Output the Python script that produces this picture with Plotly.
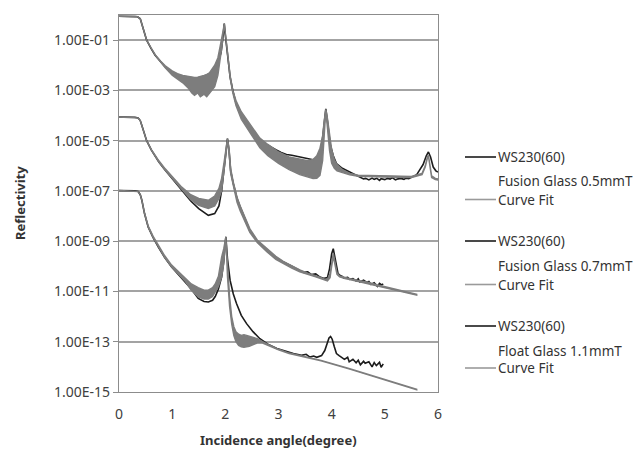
import numpy as np
import plotly.graph_objects as go

# ---------------- data (log10 of reflectivity) ----------------
# Fusion Glass 0.5mmT - measured
m1_x = [0, 0.1, 0.2, 0.3, 0.35, 0.4, 0.43, 0.47, 0.52, 0.6, 0.68, 0.78, 0.87, 1.0, 1.2, 1.4, 1.6,
        1.75, 1.85, 1.92, 1.96, 1.98, 2.0, 2.04, 2.09, 2.14, 2.2, 2.28, 2.32, 2.36, 2.4, 2.45, 2.55,
        2.65, 2.75, 2.85, 2.95, 3.05, 3.15, 3.25, 3.35, 3.45, 3.55, 3.65, 3.72, 3.78, 3.83, 3.86,
        3.89, 3.92, 3.97, 4.03, 4.09, 4.2, 4.34, 4.45,
        4.55, 4.6, 4.64, 4.7, 4.76, 4.8, 4.85, 4.9, 4.93, 5.0, 5.05, 5.1, 5.14, 5.2, 5.25, 5.3,
        5.36, 5.4, 5.45, 5.5, 5.55, 5.6, 5.65, 5.72, 5.78, 5.82, 5.86, 5.91, 5.96, 6.0]
m1_log10 = [-0.05, -0.05, -0.05, -0.05, -0.07, -0.15, -0.34, -0.65, -1.0, -1.32, -1.6, -1.85, -2.07,
            -2.3, -2.55, -2.8, -2.8, -2.5, -2.0, -1.5, -0.8, -0.34, -0.8, -1.6, -2.47, -3.0, -3.5,
            -3.85, -4.05, -4.15, -4.3, -4.45, -4.75, -4.99, -5.12, -5.25, -5.36, -5.47, -5.55,
            -5.58, -5.63, -5.66, -5.71, -5.76, -5.72, -5.5, -4.9, -4.2, -3.73, -4.2, -5.12, -5.6,
            -5.91, -6.1, -6.25, -6.38,
            -6.47, -6.52, -6.5, -6.56, -6.49, -6.54, -6.5, -6.58, -6.51, -6.55, -6.5, -6.53,
            -6.47, -6.56, -6.52, -6.5, -6.54, -6.49, -6.51, -6.46, -6.42, -6.35, -6.18, -5.95,
            -5.6, -5.45, -5.65, -6.05, -6.2, -6.25]

# Fusion Glass 0.5mmT - curve fit (envelope of the oscillating fit)
f1_x = [0, 0.3, 0.35, 0.4, 0.43, 0.47, 0.52, 0.6, 0.68, 0.78, 0.87, 1.0, 1.1, 1.2, 1.3, 1.37,
        1.42, 1.48, 1.53, 1.6, 1.65, 1.7, 1.8, 1.86, 1.9, 1.94, 1.96, 1.98, 2.0, 2.04, 2.09, 2.14,
        2.2, 2.3, 2.4, 2.5, 2.65, 2.8, 3.0, 3.2, 3.4, 3.55, 3.65, 3.72, 3.78, 3.83, 3.86, 3.89,
        3.92, 3.96, 4.0, 4.05, 4.1, 4.2, 4.34, 4.5, 5.0, 5.5, 5.7, 5.76, 5.8, 5.82, 5.84, 5.88,
        5.95, 6.0]
f1_upper = [-0.05, -0.05, -0.07, -0.15, -0.34, -0.65, -1.0, -1.3, -1.58, -1.83, -2.02, -2.22, -2.33,
            -2.4, -2.45, -2.47, -2.48, -2.47, -2.45, -2.4, -2.36, -2.3, -2.0, -1.7, -1.27, -0.9,
            -0.6, -0.34, -0.7, -1.5, -2.4, -3.0, -3.4, -3.85, -4.15, -4.45, -4.9, -5.15, -5.45,
            -5.65, -5.75, -5.8, -5.75, -5.6, -5.3, -4.8, -4.2, -3.75, -4.1, -4.8, -5.35, -5.75,
            -5.95, -6.15, -6.3, -6.37, -6.4, -6.42, -6.3, -6.0, -5.65, -5.58, -5.85, -6.4, -6.5,
            -6.52]
f1_lower = [-0.05, -0.05, -0.07, -0.15, -0.34, -0.65, -1.0, -1.3, -1.6, -1.87, -2.1, -2.4, -2.55,
            -2.7, -2.9, -3.1, -3.2, -3.1, -3.25, -3.15, -3.25, -3.1, -2.85, -2.4, -1.8, -1.2,
            -0.7, -0.34, -0.8, -1.6, -2.5, -3.1, -3.6, -4.15, -4.5, -4.8, -5.28, -5.6, -5.9,
            -6.15, -6.35, -6.45, -6.51, -6.5, -6.38, -5.8, -4.8, -3.8, -4.5, -5.4, -5.9, -6.1,
            -6.2, -6.28, -6.36, -6.42, -6.45, -6.47, -6.35, -6.05, -5.7, -5.62, -5.95, -6.47,
            -6.55, -6.57]

# Fusion Glass 0.7mmT - measured
m2_x = [0, 0.2, 0.3, 0.36, 0.4, 0.43, 0.46, 0.52, 0.61, 0.75, 0.87, 1.0, 1.18, 1.35, 1.5, 1.68,
        1.8, 1.88, 1.93, 1.98, 2.02, 2.04, 2.07, 2.1, 2.15, 2.22, 2.28, 2.37, 2.46, 2.6, 2.78,
        2.95, 3.09, 3.25, 3.4, 3.47, 3.55, 3.62, 3.7, 3.78, 3.86, 3.92, 3.96, 4.0, 4.03, 4.06,
        4.09, 4.12, 4.16, 4.2, 4.23, 4.3, 4.34, 4.4, 4.46, 4.5, 4.53, 4.6, 4.66, 4.7, 4.74, 4.8,
        4.86, 4.9, 4.94, 4.97]
m2_log10 = [-4.06, -4.06, -4.07, -4.1, -4.2, -4.4, -4.59, -5.0, -5.38, -5.85, -6.18, -6.5, -6.98,
            -7.4, -7.7, -7.97, -7.9, -7.6, -7.0, -6.0, -5.3, -4.92, -5.4, -6.2, -6.71, -7.3, -7.64,
            -8.1, -8.57, -9.0, -9.36, -9.65, -9.83, -10.0, -10.16, -10.24, -10.22, -10.33, -10.3,
            -10.43, -10.48, -10.45, -10.1, -9.5, -9.3, -9.6, -10.0, -10.29, -10.36, -10.4,
            -10.47, -10.44, -10.52, -10.49, -10.58, -10.5, -10.62, -10.55, -10.64, -10.6, -10.72,
            -10.65, -10.8, -10.68, -10.74, -10.7]

# Fusion Glass 0.7mmT - curve fit
f2_x = [0, 0.36, 0.4, 0.43, 0.46, 0.52, 0.61, 0.75, 0.87, 1.0, 1.18, 1.35, 1.5, 1.68, 1.8, 1.88,
        1.93, 1.98, 2.02, 2.04, 2.07, 2.1, 2.15, 2.22, 2.28, 2.37, 2.46, 2.6, 2.78, 2.95, 3.09,
        3.25, 3.4, 3.55, 3.7, 3.78, 3.86, 3.92, 3.97, 4.0, 4.03, 4.06, 4.1, 4.15, 4.25, 4.34, 4.5,
        4.66, 4.85, 5.0, 5.28, 5.6]
f2_upper = [-4.06, -4.1, -4.2, -4.4, -4.59, -5.0, -5.36, -5.8, -6.12, -6.42, -6.85, -7.15, -7.3,
            -7.37, -7.2, -6.9, -6.5, -5.8, -5.2, -4.92, -5.3, -6.1, -6.65, -7.25, -7.6, -8.05,
            -8.5, -8.95, -9.3, -9.6, -9.8, -9.98, -10.14, -10.27, -10.36, -10.43, -10.5, -10.52,
            -10.3, -9.8, -9.48, -9.8, -10.25, -10.38, -10.45, -10.49, -10.56, -10.62, -10.73,
            -10.8, -10.95, -11.11]
f2_lower = [-4.06, -4.1, -4.2, -4.4, -4.59, -5.0, -5.38, -5.85, -6.18, -6.5, -6.95, -7.35, -7.57,
            -7.7, -7.6, -7.3, -7.0, -6.2, -5.4, -4.92, -5.5, -6.3, -6.85, -7.45, -7.8, -8.25,
            -8.65, -9.05, -9.42, -9.72, -9.9, -10.07, -10.22, -10.33, -10.42, -10.48, -10.55,
            -10.58, -10.45, -10.0, -9.6, -9.95, -10.32, -10.42, -10.49, -10.53, -10.6, -10.66,
            -10.77, -10.84, -10.99, -11.15]

# Float Glass 1.1mmT - measured
m3_x = [0, 0.2, 0.3, 0.36, 0.4, 0.43, 0.48, 0.55, 0.64, 0.74, 0.86, 0.99, 1.12, 1.24, 1.36, 1.49,
        1.6, 1.68, 1.76, 1.81, 1.87, 1.93, 1.97, 2.01, 2.04, 2.09, 2.15, 2.21, 2.3, 2.4, 2.52,
        2.65, 2.8, 2.97, 3.12, 3.28, 3.43, 3.52, 3.59, 3.66, 3.72, 3.81, 3.87, 3.92, 3.95, 3.98,
        4.01, 4.05, 4.09, 4.14, 4.2, 4.24, 4.3, 4.33, 4.4, 4.46, 4.5, 4.54, 4.6, 4.63, 4.7, 4.76,
        4.8, 4.84, 4.9, 4.93, 4.97]
m3_log10 = [-6.98, -6.98, -6.99, -7.02, -7.15, -7.37, -7.9, -8.44, -8.85, -9.23, -9.65, -10.03,
            -10.33, -10.6, -10.9, -11.28, -11.4, -11.42, -11.35, -11.2, -10.9, -10.43, -9.8, -8.83,
            -9.7, -10.56, -11.1, -11.48, -11.95, -12.28, -12.6, -12.88, -13.1, -13.27, -13.38,
            -13.47, -13.54, -13.5, -13.61, -13.57, -13.62, -13.55, -13.35, -13.05, -12.85, -12.79,
            -12.9, -13.2, -13.47, -13.55, -13.64, -13.7, -13.62, -13.8, -13.7, -13.84, -13.74,
            -13.92, -13.78, -13.86, -13.8, -14.0, -13.83, -13.95, -13.82, -14.02, -13.88]

# Float Glass 1.1mmT - curve fit
f3_x = [0, 0.36, 0.4, 0.43, 0.48, 0.55, 0.64, 0.74, 0.86, 0.99, 1.12, 1.24, 1.36, 1.49, 1.6, 1.68,
        1.76, 1.81, 1.87, 1.93, 1.97, 2.01, 2.04, 2.08, 2.12, 2.16, 2.2, 2.25, 2.3, 2.35, 2.4,
        2.45, 2.5, 2.6, 2.7, 2.85, 3.0, 3.2, 3.5, 3.8, 4.34, 5.03, 5.6]
f3_upper = [-6.98, -7.02, -7.15, -7.37, -7.88, -8.4, -8.8, -9.18, -9.58, -9.95, -10.22, -10.45,
            -10.7, -10.85, -10.95, -10.95, -10.85, -10.7, -10.4, -9.63, -9.3, -8.83, -10.0, -11.2,
            -12.0, -12.4, -12.6, -12.7, -12.75, -12.72, -12.75, -12.78, -12.8, -12.88, -13.0,
            -13.15, -13.3, -13.45, -13.58, -13.74, -14.07, -14.51, -14.89]
f3_lower = [-6.98, -7.02, -7.15, -7.37, -7.9, -8.44, -8.85, -9.23, -9.65, -10.03, -10.33, -10.58,
            -10.95, -11.22, -11.3, -11.3, -11.2, -11.05, -10.8, -10.43, -9.9, -8.83, -10.4, -11.6,
            -12.3, -12.75, -13.0, -13.15, -13.2, -13.22, -13.2, -13.18, -13.15, -13.05, -13.05,
            -13.18, -13.32, -13.47, -13.6, -13.76, -14.09, -14.53, -14.91]

y_tick_exp = [-1, -3, -5, -7, -9, -11, -13, -15]
y_tick_text = ["1.00E-01", "1.00E-03", "1.00E-05", "1.00E-07", "1.00E-09", "1.00E-11",
               "1.00E-13", "1.00E-15"]
x_ticks = [0, 1, 2, 3, 4, 5, 6]

legend_groups = [("WS230(60)", "Fusion Glass 0.5mmT", "Curve Fit"),
                 ("WS230(60)", "Fusion Glass 0.7mmT", "Curve Fit"),
                 ("WS230(60)", "Float Glass 1.1mmT", "Curve Fit")]

# ---------------- figure ----------------
BLACK = "#1c1c1c"
GRAY = "#7d7d7d"
LGRAY = "#9a9a9a"
FONT = "Noto Sans"

fig = go.Figure()

fits = [(f1_x, f1_upper, f1_lower), (f2_x, f2_upper, f2_lower), (f3_x, f3_upper, f3_lower)]
meas = [(m1_x, m1_log10), (m2_x, m2_log10), (m3_x, m3_log10)]

for (mx, my), (fx, fu, fl) in zip(meas, fits):
    fig.add_trace(go.Scatter(x=mx, y=10 ** np.array(my, dtype=float), mode="lines",
                             line=dict(color=BLACK, width=1.6), showlegend=False,
                             hoverinfo="skip"))
    px_ = list(fx) + list(fx)[::-1]
    py_ = list(fu) + list(fl)[::-1]
    fig.add_trace(go.Scatter(x=px_, y=10 ** np.array(py_, dtype=float), mode="lines",
                             fill="toself", fillcolor=GRAY,
                             line=dict(color=GRAY, width=1.4), showlegend=False,
                             hoverinfo="skip"))

# pixel geometry of the plot area
L, R, T, B = 119, 438, 15, 392
W, H = 640, 449


def pxx(x):
    return (x - L) / (R - L)


def pyy(y):
    return (B - y) / (B - T)


annotations = []
shapes = []
group_rows = [(157, 180.5, 199.5), (241, 265.5, 284.5), (326, 350.5, 368)]
for (n1, n2, n3), (y1, y2, y3) in zip(legend_groups, group_rows):
    for txt, yy in ((n1, y1), (n2, y2), (n3, y3)):
        annotations.append(dict(x=pxx(497), y=pyy(yy), xref="paper", yref="paper",
                                text=txt, showarrow=False, xanchor="left", yanchor="middle",
                                borderpad=0,
                                font=dict(family=FONT, size=13.5, color="#333333")))
    shapes.append(dict(type="line", xref="paper", yref="paper", x0=pxx(465), x1=pxx(496),
                       y0=pyy(y1), y1=pyy(y1), line=dict(color=BLACK, width=1.6)))
    shapes.append(dict(type="line", xref="paper", yref="paper", x0=pxx(465), x1=pxx(496),
                       y0=pyy(y3), y1=pyy(y3), line=dict(color=LGRAY, width=1.6)))

annotations.append(dict(x=pxx(278.5), y=pyy(440), xref="paper", yref="paper",
                        text="<b>Incidence angle(degree)</b>", showarrow=False,
                        xanchor="center", yanchor="middle",
                        font=dict(family=FONT, size=13, color="#333333")))
annotations.append(dict(x=pxx(20), y=pyy(203), xref="paper", yref="paper",
                        text="<b>Reflectivity</b>", showarrow=False, textangle=-90,
                        xanchor="center", yanchor="middle",
                        font=dict(family=FONT, size=13, color="#333333")))

fig.update_layout(
    width=W, height=H,
    margin=dict(l=L, r=W - R, t=T, b=H - B, pad=0),
    paper_bgcolor="white", plot_bgcolor="white",
    showlegend=False,
    annotations=annotations, shapes=shapes,
    font=dict(family=FONT, size=13, color="#404040"),
)
fig.update_xaxes(range=[0, 6], tickvals=x_ticks, ticktext=[str(v) for v in x_ticks],
                 showgrid=False, zeroline=False, showline=True, linecolor="#8c8c8c",
                 linewidth=1.2, mirror=True, ticks="outside", ticklen=9,
                 tickcolor="rgba(0,0,0,0)", tickfont=dict(family=FONT, size=14, color="#404040"))
fig.update_yaxes(type="log", range=[-15, 0], tickvals=[10.0 ** e for e in y_tick_exp],
                 ticktext=y_tick_text, showgrid=True, gridcolor="#a3a3a3", gridwidth=1.5,
                 zeroline=False, showline=True, linecolor="#8c8c8c", linewidth=1.2, mirror=True,
                 ticks="outside", ticklen=5, tickcolor="#8c8c8c",
                 tickfont=dict(family=FONT, size=14, color="#404040"))

fig.write_html("out.html", config={"displayModeBar": False},
               post_script="document.body.style.margin='0px';document.body.style.padding='0px';")
